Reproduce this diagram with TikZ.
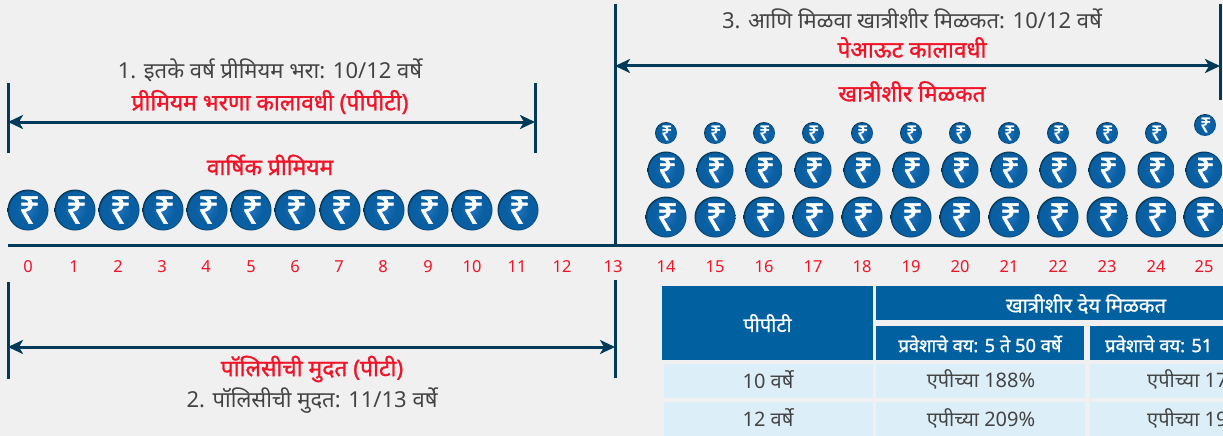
\documentclass[tikz,border=0pt]{standalone}
\usepackage{fontspec}
\setmainfont[Script=Devanagari]{Noto Sans}
\newfontfamily\heavyfont[Script=Devanagari,FakeBold=1.2]{Noto Sans}
\newfontfamily\midfont[Script=Devanagari,FakeBold=0.5]{Noto Sans}
\usetikzlibrary{arrows.meta}
\definecolor{bg}{HTML}{F0F0F0}
\definecolor{navy}{HTML}{023A5A}
\definecolor{hdr}{HTML}{0060A0}
\definecolor{cellc}{HTML}{DCEFF8}
\definecolor{redt}{HTML}{F01428}
\definecolor{grayt}{HTML}{444444}
\definecolor{coinA}{HTML}{2272BC}
\definecolor{coinB}{HTML}{0A5FA2}
\definecolor{coinC}{HTML}{02334F}
\pgfdeclareradialshading{coinshade}{\pgfpointorigin}{color(0bp)=(coinA);color(14bp)=(coinB);color(23bp)=(coinB);color(25bp)=(coinC);color(50bp)=(coinC)}
\tikzset{
  x=1pt,y=-1pt,
  bar/.style={navy,line width=3pt},
  span/.style={navy,line width=3pt,{Stealth[length=15pt,width=14pt,inset=4pt]}-{Stealth[length=15pt,width=14pt,inset=4pt]}},
  graytext/.style={text=grayt,font=\fontsize{22}{24}\selectfont,inner sep=0pt},
  redtext/.style={text=redt,font=\heavyfont\fontsize{22.8}{24}\selectfont,inner sep=0pt},
  tick/.style={text=redt,font=\fontsize{16.5}{18}\selectfont,inner sep=0pt},
  hcell/.style={fill=hdr,text=white,inner sep=0pt,font=\midfont\fontsize{20}{22}\selectfont},
  subhead/.style={text=white,inner sep=0pt,font=\heavyfont\fontsize{18.3}{22}\selectfont},
  bcell/.style={fill=cellc,inner sep=0pt},
  btext/.style={text=grayt,inner sep=0pt,font=\fontsize{20}{22}\selectfont},
}
\newcommand{\coin}[4]{% name,x,y,r
  \shade[shading=coinshade] (#2,#3) circle[radius=#4];
  \pgfmathsetmacro{\coinfs}{#4*1.85}
  \node[text=white,inner sep=0pt,font=\heavyfont\fontsize{\coinfs}{\coinfs}\selectfont,xshift=0.07*#4] (#1) at (#2,#3) {₹};
}
\begin{document}
\begin{tikzpicture}
\fill[bg] (0,0) rectangle (1223,436);
\useasboundingbox (0,0) rectangle (1223,436);
% endpoints
\coordinate (a1) at (8,122); \coordinate (a2) at (535,122);
\coordinate (b1) at (615,66); \coordinate (b2) at (1220,66);
\coordinate (c1) at (8,347); \coordinate (c2) at (615,347);
\draw[bar] (8,83) -- (8,153);
\draw[bar] (535,83) -- (535,153);
\draw[bar] (615,4) -- (615,245);
\draw[bar] (1220,4) -- (1220,100);
\draw[bar] (8,282) -- (8,379);
\draw[bar] (615,280) -- (615,378);
\draw[bar] (8,245) -- (1223,245);
\draw[span] (a1) -- (a2);
\draw[span] (b1) -- (b2);
\draw[span] (c1) -- (c2);
% labels
\node[graytext] (t1) at (270,70) {1. इतके वर्ष प्रीमियम भरा: 10/12 वर्षे};
\node[redtext] (t2) at (270,102) {प्रीमियम भरणा कालावधी (पीपीटी)};
\node[redtext] (t3) at (270,165) {वार्षिक प्रीमियम};
\node[graytext] (t4) at (912,19) {3. आणि मिळवा खात्रीशीर मिळकत: 10/12 वर्षे};
\node[redtext] (t5) at (912,47.5) {पेआऊट कालावधी};
\node[redtext] (t6) at (912,91.5) {खात्रीशीर मिळकत};
\node[redtext] (t7) at (312,369) {पॉलिसीची मुदत (पीटी)};
\node[graytext] (t8) at (312,401) {2. पॉलिसीची मुदत: 11/13 वर्षे};
% coins left
\foreach \i/\x in {0/28,1/75,2/119,3/163,4/207,5/251,6/295,7/340,8/384,9/428,10/472,11/518}
  {\coin{l\i}{\x}{210}{20.5}}
% coins right
\foreach \i/\x in {14/666,15/715,16/764,17/813,18/862,19/911,20/960,21/1009,22/1058,23/1107,24/1156,25/1204}{
  \coin{r\i}{\x}{217}{20.5}
  \coin{m\i}{\x}{170}{18.5}
}
\foreach \i/\x in {14/666,15/715,16/764,17/813,18/862,19/911,20/960,21/1009,22/1058,23/1107,24/1156}
  {\coin{s\i}{\x}{133}{11}}
\coin{s25}{1205}{125}{11}
% ticks
\foreach \n/\x in {0/28,1/74,2/118,3/162,4/206,5/251,6/295,7/339,8/383,9/428,10/472,11/517,12/562,13/613,14/666,15/715,16/764,17/813,18/862,19/911,20/960,21/1009,22/1058,23/1107,24/1156,25/1204}
  \node[tick] (n\n) at (\x,266.5) {\n};
% table
\node[hcell,minimum width=211pt,minimum height=74pt] (h0) at (767.5,323) {पीपीटी};
\begin{scope}
\clip (0,0) rectangle (1223,436);
\fill[hdr] (876,286) rectangle (1223,320);
\node[text=white,inner sep=0pt,font=\midfont\fontsize{20.5}{22}\selectfont] (h1t) at (1086,304) {खात्रीशीर देय मिळकत};
\fill[hdr] (876,326) rectangle (1084,360);
\node[subhead] (h2) at (980,344) {प्रवेशाचे वय: 5 ते 50 वर्षे};
\fill[hdr] (1090,326) rectangle (1223,360);
\node[subhead,anchor=west] (h3) at (1105,344) {प्रवेशाचे वय: 51};
\fill[cellc] (664,364) rectangle (873,398);
\fill[cellc] (664,402) rectangle (873,436);
\fill[cellc] (876,364) rectangle (1085,398);
\fill[cellc] (876,402) rectangle (1085,436);
\fill[cellc] (1090,364) rectangle (1223,398);
\fill[cellc] (1090,402) rectangle (1223,436);
\node[btext] (p1) at (768,379.5) {10 वर्षे};
\node[btext] (p2) at (768,418) {12 वर्षे};
\node[btext] (q1) at (981,379.5) {एपीच्या 188\%};
\node[btext] (q2) at (981,418) {एपीच्या 209\%};
\node[btext,anchor=west] (r1) at (1147,379.5) {एपीच्या 17};
\node[btext,anchor=west] (r2) at (1147,418) {एपीच्या 19};
\end{scope}
\end{tikzpicture}
\end{document}
